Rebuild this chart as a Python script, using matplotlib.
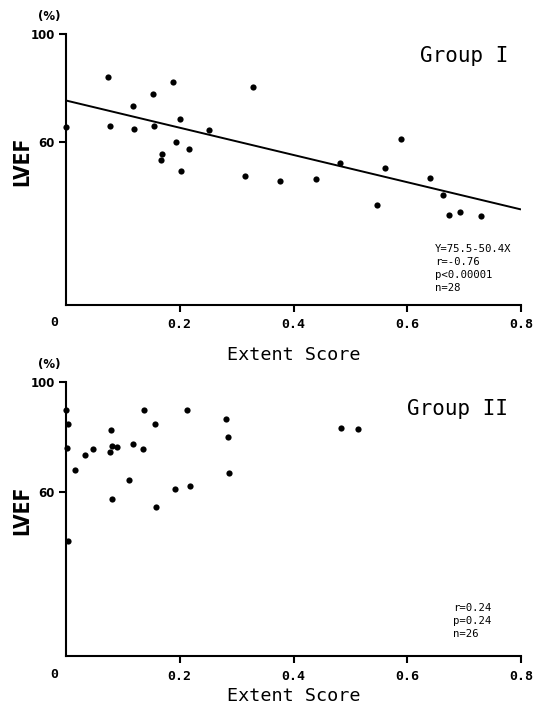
import matplotlib
matplotlib.use("Agg")
import matplotlib.pyplot as plt
import numpy as np

# ---------------- data ----------------
g1_x = [0.0, 0.074, 0.077, 0.118, 0.119, 0.153, 0.154, 0.188, 0.200, 0.193,
        0.216, 0.168, 0.167, 0.202, 0.251, 0.328, 0.314, 0.377, 0.439, 0.482,
        0.547, 0.561, 0.589, 0.640, 0.663, 0.674, 0.693, 0.730]
g1_y = [65.6, 84.1, 65.9, 73.3, 64.8, 77.8, 65.9, 82.2, 68.5, 60.0,
        57.4, 55.6, 53.3, 49.3, 64.4, 80.4, 47.4, 45.6, 46.3, 52.2,
        36.7, 50.7, 61.1, 47.0, 40.7, 33.3, 34.1, 32.6]
g1_fit = (75.5, -50.4)          # intercept, slope
g1_fit_x = [0.0, 0.8]
g1_stats = ["Y=75.5-50.4X", "r=-0.76", "p<0.00001", "n=28"]

g2_x = [0.0, 0.003, 0.001, 0.003, 0.016, 0.033, 0.047, 0.079, 0.081, 0.077,
        0.089, 0.081, 0.118, 0.111, 0.137, 0.135, 0.156, 0.158, 0.191, 0.212,
        0.218, 0.282, 0.284, 0.286, 0.484, 0.514]
g2_y = [89.8, 84.7, 75.9, 42.0, 67.9, 73.4, 75.5, 82.5, 76.6, 74.5,
        76.3, 57.3, 77.4, 64.2, 89.8, 75.5, 84.7, 54.4, 60.9, 89.8,
        62.0, 86.5, 79.9, 66.8, 83.2, 82.8]
g2_stats = ["r=0.24", "p=0.24", "n=26"]

titles = ["Group I", "Group II"]
xticks = [0.2, 0.4, 0.6, 0.8]
xticklabels = ["0.2", "0.4", "0.6", "0.8"]
yticks = [60, 100]
yticklabels = ["60", "100"]
xlabel = "Extent Score"
ylabel = "LVEF"
unit_label = "(%)"

# ---------------- figure ----------------
W, H = 540, 706
fig = plt.figure(figsize=(W / 100, H / 100), dpi=100)
fig.patch.set_facecolor("white")

mono = "DejaVu Sans Mono"

panels = [
    dict(rect=[66 / W, 1 - 304.5 / H, 455 / W, 270.2 / H], x=g1_x, y=g1_y,
         title=titles[0], title_xy=(0.623, 89.6), stats=g1_stats,
         stats_x=0.649, stats_y0=19.3, fit=True, xlab_y=-0.152),
    dict(rect=[66 / W, 1 - 656 / H, 455 / W, 274 / H], x=g2_x, y=g2_y,
         title=titles[1], title_xy=(0.600, 88.0), stats=g2_stats,
         stats_x=0.680, stats_y0=16.4, fit=False, xlab_y=-0.113),
]

for p in panels:
    ax = fig.add_axes(p["rect"])
    ax.set_xlim(0, 0.8)
    ax.set_ylim(0, 100)
    for s in ["top", "right"]:
        ax.spines[s].set_visible(False)
    for s in ["left", "bottom"]:
        ax.spines[s].set_linewidth(1.5)
        ax.spines[s].set_color("black")
    ax.set_xticks(xticks)
    ax.set_xticklabels(xticklabels, fontfamily=mono, fontweight="bold", fontsize=9.5)
    ax.set_yticks(yticks)
    ax.set_yticklabels(yticklabels, fontfamily="DejaVu Sans", fontweight="bold", fontsize=8.5)
    ax.tick_params(axis="both", direction="out", length=5, width=1.5, pad=3)
    ax.tick_params(axis="x", pad=5)

    ax.scatter(p["x"], p["y"], s=20, color="black", zorder=3, clip_on=False,
               linewidths=0)
    if p["fit"]:
        a, b = g1_fit
        fx = np.array(g1_fit_x)
        ax.plot(fx, a + b * fx, color="black", lw=1.4, solid_capstyle="butt")

    ax.text(p["title_xy"][0], p["title_xy"][1], p["title"], fontfamily=mono,
            fontsize=15, ha="left", va="baseline")
    ax.set_xlabel(xlabel, fontfamily=mono, fontsize=13.3)
    ax.xaxis.set_label_coords(0.5, p["xlab_y"])
    ax.set_ylabel(ylabel, fontfamily="DejaVu Sans", fontstretch="condensed",
                  fontweight="bold", fontsize=15)
    ax.yaxis.set_label_coords(-0.075, 0.53)
    ax.text(-0.021, -6.7, "0", fontfamily=mono, fontweight="bold", fontsize=9.5,
            ha="center", va="center", clip_on=False)
    ax.text(-0.03, 106.5, unit_label, fontfamily="DejaVu Sans", fontweight="bold",
            fontsize=8.5, ha="center", va="center", clip_on=False)
    for i, line in enumerate(p["stats"]):
        ax.text(p["stats_x"], p["stats_y0"] - i * 4.8, line, fontfamily=mono,
                fontsize=7.7, ha="left", va="baseline")

fig.savefig("out.png", dpi=100, facecolor="white")
